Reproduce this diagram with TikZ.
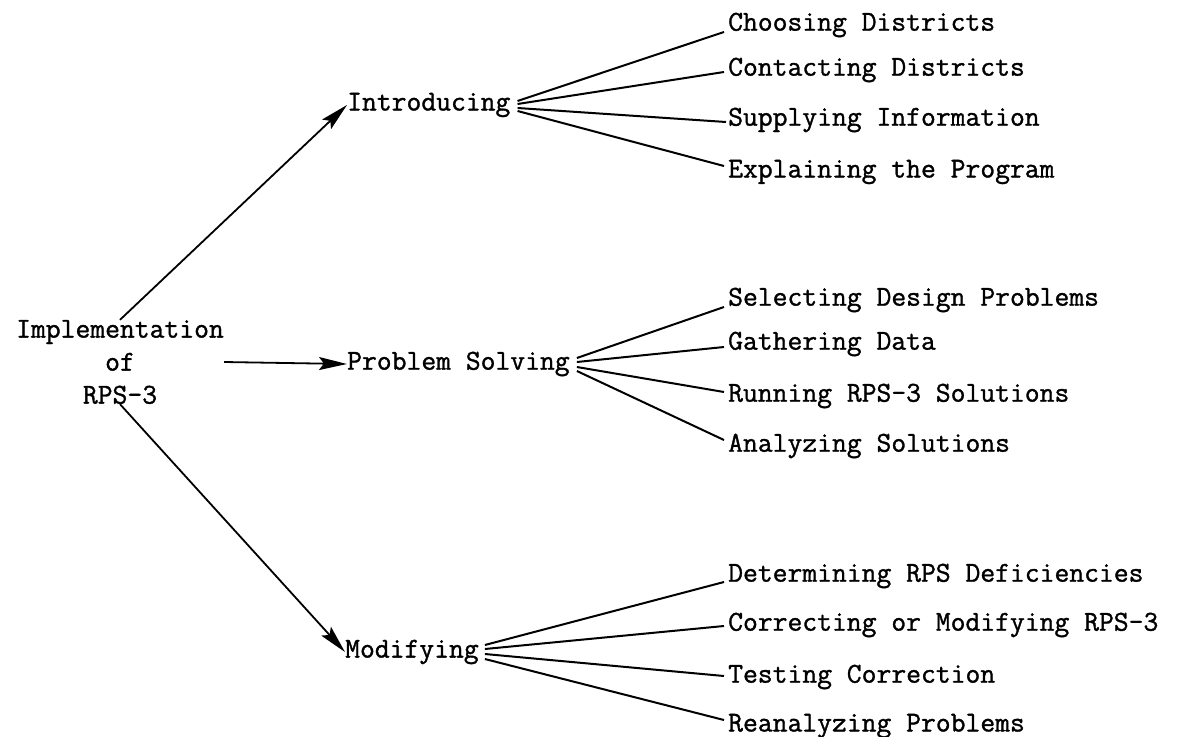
\documentclass[tikz,border=0pt]{standalone}
\usepackage{fontspec}
\newfontfamily\tw{Latin Modern Mono}[FakeBold=1.2]
\usetikzlibrary{arrows.meta,calc}
\begin{document}
\begin{tikzpicture}[x=1pt,y=-1pt,
  txt/.style={inner sep=0pt,anchor=west,font=\tw\fontsize{28.8}{33}\selectfont},
  arr/.style={line width=1.8pt,-{Stealth[length=28pt,width=13pt,inset=5pt]}},
  fan/.style={line width=2pt}]
\useasboundingbox (0,0) rectangle (1199,736);
% root
\node[inner sep=0pt,align=center,font=\tw\fontsize{28.8}{33}\selectfont] (impl) at (120,362) {Implementation\\of\\RPS-3};
% middle level
\node[txt] (intro) at (347,105) {Introducing};
\node[txt] (ps) at (347,364) {Problem Solving};
\node[txt] (mod) at (345,652) {Modifying};
% leaves
\node[txt] (c1) at (728,25) {Choosing Districts};
\node[txt] (c2) at (728,70) {Contacting Districts};
\node[txt] (c3) at (728,120) {Supplying Information};
\node[txt] (c4) at (728,172) {Explaining the Program};
\node[txt] (p1) at (728,300) {Selecting Design Problems};
\node[txt] (p2) at (728,344) {Gathering Data};
\node[txt] (p3) at (728,396) {Running RPS-3 Solutions};
\node[txt] (p4) at (728,446) {Analyzing Solutions};
\node[txt] (m1) at (728,576) {Determining RPS Deficiencies};
\node[txt] (m2) at (728,625) {Correcting or Modifying RPS-3};
\node[txt] (m3) at (728,677) {Testing Correction};
\node[txt] (m4) at (728,726) {Reanalyzing Problems};
% arrows
\draw[arr] (impl.north) -- (intro.west);
\draw[arr] (impl.east) -- (ps.west);
\draw[arr] (impl.south) -- (mod.west);
% fans
\coordinate (fi) at ($(intro.east)+(7,0)$);
\draw[fan] ($(fi)+(0,-4)$) -- ($(c1.west)+(-4,7)$);
\draw[fan] ($(fi)+(0,-1)$) -- ($(c2.west)+(-4,2)$);
\draw[fan] ($(fi)+(0,3)$) -- ($(c3.west)+(-2,2)$);
\draw[fan] ($(fi)+(0,6)$) -- ($(c4.west)+(-4,-6)$);
\coordinate (fp) at ($(ps.east)+(7,0)$);
\draw[fan] ($(fp)+(0,-6)$) -- ($(p1.west)+(-4,7)$);
\draw[fan] ($(fp)+(0,-2)$) -- ($(p2.west)+(-4,3)$);
\draw[fan] ($(fp)+(0,3)$) -- ($(p3.west)+(-4,-4)$);
\draw[fan] ($(fp)+(0,7)$) -- ($(p4.west)+(-4,-6)$);
\coordinate (fm) at ($(mod.east)+(6,0)$);
\draw[fan] ($(fm)+(0,-7)$) -- ($(m1.west)+(-4,6)$);
\draw[fan] ($(fm)+(0,-3)$) -- ($(m2.west)+(-4,1)$);
\draw[fan] ($(fm)+(0,2)$) -- ($(m3.west)+(-4,-1)$);
\draw[fan] ($(fm)+(0,7)$) -- ($(m4.west)+(-4,-6)$);
\end{tikzpicture}
\end{document}
